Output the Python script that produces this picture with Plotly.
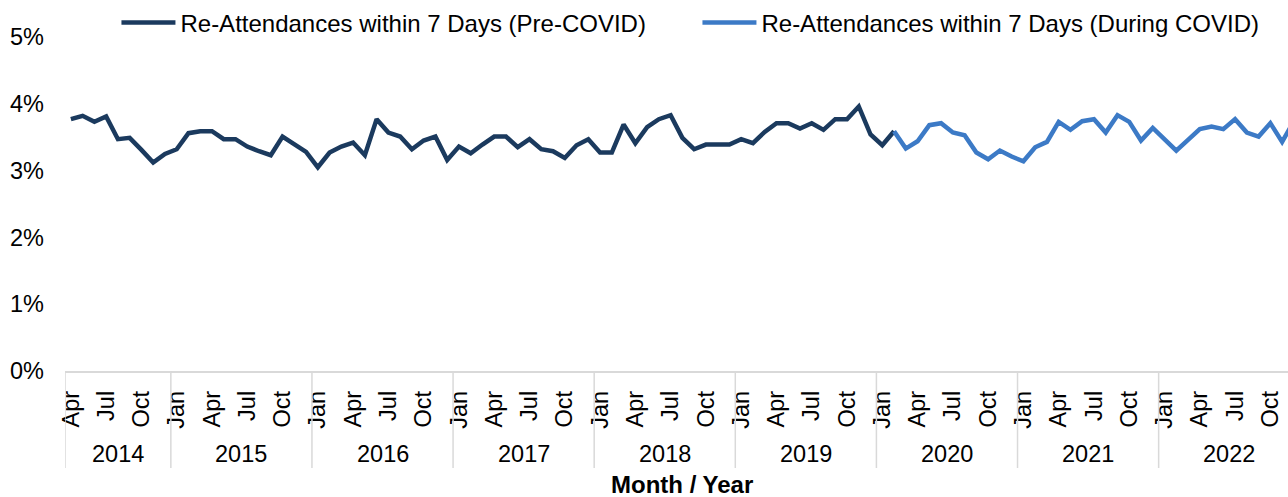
import plotly.graph_objects as go

# ---------------- data ----------------
years = [2014, 2015, 2016, 2017, 2018, 2019, 2020, 2021, 2022]
month_names = ["Jan", "Feb", "Mar", "Apr", "May", "Jun",
               "Jul", "Aug", "Sep", "Oct", "Nov", "Dec"]
first_month = "Apr"          # series starts Apr 2014
label_months = ["Jan", "Apr", "Jul", "Oct"]

# Re-attendance rate (%) Apr 2014 - Feb 2020
pre_covid = [
    3.77, 3.82, 3.73, 3.81, 3.47, 3.49, 3.31, 3.12, 3.25,                  # 2014 Apr-Dec
    3.32, 3.56, 3.59, 3.59, 3.47, 3.47, 3.36, 3.29, 3.23, 3.51, 3.40, 3.28,  # 2015
    3.05, 3.27, 3.36, 3.42, 3.23, 3.77, 3.57, 3.51, 3.32, 3.45, 3.51, 3.16,  # 2016
    3.36, 3.26, 3.39, 3.51, 3.51, 3.35, 3.47, 3.32, 3.29, 3.19, 3.38, 3.47,  # 2017
    3.27, 3.27, 3.69, 3.41, 3.65, 3.77, 3.83, 3.49, 3.32, 3.39, 3.39, 3.39,  # 2018
    3.47, 3.41, 3.58, 3.71, 3.71, 3.63, 3.71, 3.61, 3.77, 3.77, 3.96, 3.54,  # 2019
    3.38, 3.59,                                                              # 2020 Jan-Feb
]
# Re-attendance rate (%) Feb 2020 - Dec 2022
during_covid = [
    3.59, 3.33, 3.44, 3.68, 3.71, 3.57, 3.53, 3.27, 3.17, 3.30, 3.21,        # 2020 Feb-Dec
    3.14, 3.35, 3.43, 3.73, 3.61, 3.74, 3.77, 3.57, 3.83, 3.73, 3.45, 3.64,  # 2021
    3.47, 3.30, 3.46, 3.62, 3.66, 3.62, 3.77, 3.57, 3.51, 3.71, 3.43, 3.74,  # 2022
]

series_names = ["Re-Attendances within 7 Days (Pre-COVID)",
                "Re-Attendances within 7 Days (During COVID)"]
y_ticks = [0, 1, 2, 3, 4, 5]
y_ticktext = [f"{v}%" for v in y_ticks]
x_title = "Month / Year"

# ---------------- build category index ----------------
periods = []
for yr in years:
    for m in month_names:
        if yr == years[0] and month_names.index(m) < month_names.index(first_month):
            continue
        periods.append((yr, m))
idx = list(range(len(periods)))

pre_x = idx[:len(pre_covid)]
dur_x = idx[len(pre_covid) - 1:len(pre_covid) - 1 + len(during_covid)]

FONT = "Arial, 'Liberation Sans', sans-serif"
FS = 23.5
FS_BIG = 24
DARK = "#1B3A5E"
LIGHT = "#3C7AC6"
GRID = "#D9D9D9"

fig = go.Figure()
fig.add_trace(go.Scatter(x=pre_x, y=pre_covid, mode="lines", name=series_names[0],
                         line=dict(color=DARK, width=4.5)))
fig.add_trace(go.Scatter(x=dur_x, y=during_covid, mode="lines", name=series_names[1],
                         line=dict(color=LIGHT, width=4.5)))

tickvals = [i for i, (yr, m) in zip(idx, periods) if m in label_months]
ticktext = [m for (yr, m) in periods if m in label_months]

# year groups: dividers + labels
plot_h = 497 - 37 - 126
div_bottom = -(468 - 371) / plot_h
year_label_y = -(454 - 371) / plot_h
shapes = []
annotations = []
for yr in years:
    members = [i for i, (y2, m) in zip(idx, periods) if y2 == yr]
    lo, hi = members[0] - 0.5, members[-1] + 0.5
    shapes.append(dict(type="line", xref="x", yref="paper", x0=lo, x1=lo,
                       y0=0, y1=div_bottom, line=dict(color=GRID, width=1.5)))
    annotations.append(dict(x=(lo + hi) / 2, y=year_label_y, xref="x", yref="paper",
                            text=str(yr), showarrow=False, xanchor="center",
                            yanchor="middle", font=dict(family=FONT, size=FS, color="#000000")))

annotations.append(dict(x=(idx[0] - 0.5 + idx[-1] + 0.5) / 2, y=-(484 - 371) / plot_h,
                        xref="x", yref="paper", text="<b>" + x_title + "</b>",
                        showarrow=False, xanchor="center", yanchor="middle",
                        font=dict(family=FONT, size=FS_BIG, color="#000000")))

fig.update_layout(
    width=1288, height=497,
    margin=dict(l=65, r=0, t=37, b=126, pad=0, autoexpand=False),
    paper_bgcolor="white", plot_bgcolor="white",
    font=dict(family=FONT, size=FS, color="#000000"),
    showlegend=True,
    legend=dict(orientation="h", xref="container", yref="container",
                x=0.5415, y=1 - 23 / 497, xanchor="center", yanchor="middle",
                font=dict(family=FONT, size=FS_BIG, color="#000000"),
                itemwidth=54, entrywidth=512, entrywidthmode="pixels",
                tracegroupgap=0, bgcolor="rgba(0,0,0,0)"),
    xaxis=dict(range=[-0.5, 103.5], tickmode="array", tickvals=tickvals, ticktext=ticktext,
               tickangle=-90, showgrid=False, zeroline=False, showline=True,
               linecolor=GRID, linewidth=1.5, ticks="", ticklabelstandoff=9,
               automargin=False,
               tickfont=dict(family=FONT, size=FS, color="#000000")),
    yaxis=dict(range=[0, 5], tickmode="array", tickvals=y_ticks, ticktext=y_ticktext,
               showgrid=False, zeroline=False, showline=False, ticks="",
               ticklabelstandoff=20, automargin=False,
               tickfont=dict(family=FONT, size=FS, color="#000000")),
    shapes=shapes,
    annotations=annotations,
    hovermode=False,
)

fig.write_html("out.html", config={"displayModeBar": False, "staticPlot": True},
               post_script="document.body.style.margin='0';document.body.style.overflow='hidden';")
